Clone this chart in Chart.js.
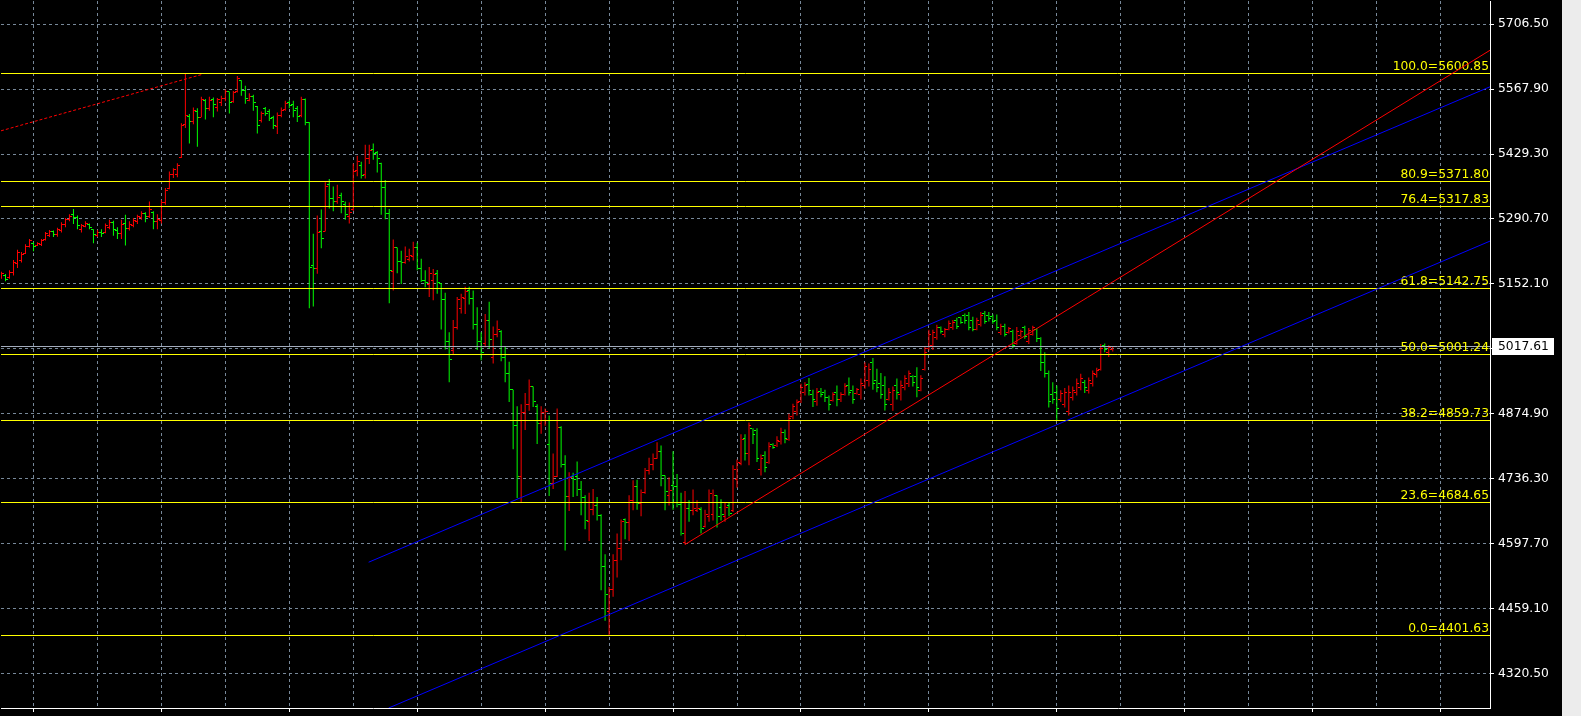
<!DOCTYPE html>
<html>
<head>
<meta charset="utf-8">
<script src="https://cdn.jsdelivr.net/npm/chart.js@4.4.1/dist/chart.umd.min.js"></script>
<style>
html, body { margin: 0; padding: 0; background: #ececec; overflow: hidden; }
#chart { display: block; background: #000; }
</style>
</head>
<body>
<canvas id="chart" width="1562" height="716"></canvas>
<script>
// bar data, one value per bar (oldest first)
const open = [
5165,5171,5165,5176,5196,5203,5218,5233,5238,5234,
5236,5246,5256,5264,5257,5267,5278,5289,5300,5294,
5268,5275,5279,5268,5256,5262,5262,5273,5284,5266,
5259,5282,5270,5277,5285,5293,5302,5296,5305,5285,
5288,5326,5355,5385,5385,5421,5493,5510,5498,5521,
5508,5543,5527,5545,5529,5540,5548,5562,5541,5562,
5587,5566,5544,5552,5530,5500,5527,5520,5508,5488,
5512,5524,5540,5536,5526,5512,5546,5497,5192,5185,
5265,5265,5364,5335,5328,5340,5322,5296,5310,5395,
5405,5385,5420,5440,5432,5410,5357,5302,5178,5229,
5200,5198,5205,5210,5230,5185,5160,5150,5160,5175,
5154,5118,5030,5010,5060,5100,5120,5138,5120,5065,
5030,5025,5074,4995,5045,5050,4995,4960,4926,4849,
4741,4878,4894,4933,4890,4854,4860,4810,4726,4740,
4846,4766,4699,4740,4740,4713,4696,4644,4670,4679,
4658,4549,4452,4500,4562,4587,4648,4642,4690,4720,
4683,4706,4754,4766,4779,4795,4743,4700,4722,4720,
4682,4600,4673,4669,4668,4670,4635,4655,4660,4700,
4675,4655,4678,4668,4735,4768,4822,4790,4844,4838,
4755,4785,4770,4810,4806,4815,4835,4820,4868,4880,
4900,4920,4938,4915,4900,4922,4920,4910,4903,4920,
4905,4915,4935,4925,4918,4915,4935,4945,4985,4945,
4940,4935,4905,4895,4935,4915,4930,4940,4955,4955,
4925,4970,5015,5020,5038,5058,5045,5055,5058,5075,
5080,5085,5085,5075,5055,5065,5088,5085,5082,5075,
5048,5062,5048,5050,5025,5042,5058,5030,5045,5055,
5035,4985,4960,4915,4920,4905,4895,4880,4910,4920,
4930,4942,4925,4940,4958,4970,5020,5005,5012
];
const high = [
5178,5173,5181,5203,5225,5220,5237,5248,5241,5241,
5248,5263,5267,5266,5272,5284,5293,5301,5312,5298,
5280,5286,5281,5269,5267,5269,5281,5289,5287,5273,
5289,5300,5286,5293,5300,5307,5305,5328,5307,5301,
5331,5357,5392,5399,5410,5495,5600.85,5515,5529,5527,
5552,5547,5552,5550,5549,5554,5567,5563,5564,5596,
5587,5575,5559,5556,5532,5520,5530,5525,5511,5518,
5529,5543,5544,5543,5532,5552,5548,5498,5259,5298,
5311,5369,5376,5360,5364,5347,5328,5326,5409,5426,
5413,5449,5449,5452,5436,5411,5374,5312,5247,5230,
5223,5232,5227,5242,5240,5206,5181,5188,5184,5182,
5154,5133,5049,5075,5124,5131,5146,5146,5138,5102,
5049,5088,5114,5061,5074,5053,5018,4986,4926,4891,
4895,4919,4948,4933,4895,4891,4886,4871,4790,4886,
4848,4786,4750,4749,4773,4731,4701,4706,4714,4697,
4660,4575,4505,4575,4619,4649,4651,4701,4733,4734,
4713,4759,4781,4790,4814,4807,4743,4739,4795,4746,
4706,4710,4690,4713,4690,4675,4670,4713,4713,4701,
4692,4686,4684,4765,4777,4831,4831,4856,4844,4844,
4788,4795,4814,4812,4827,4845,4841,4875,4896,4905,
4939,4942,4951,4926,4930,4930,4926,4914,4921,4935,
4921,4940,4952,4935,4930,4950,4985,4982,4994,4971,
4962,4955,4930,4933,4950,4946,4957,4967,4957,4974,
4957,5018,5054,5054,5065,5061,5058,5074,5075,5080,
5082,5089,5092,5082,5080,5092,5094,5092,5087,5087,
5067,5067,5060,5054,5060,5054,5063,5058,5063,5058,
5038,5006,4967,4942,4935,4925,4930,4935,4933,4950,
4960,4947,4952,4967,4973,5024,5025,5021,5018
];
const low = [
5163,5158,5163,5170,5186,5198,5216,5230,5222,5233,
5233,5245,5252,5252,5253,5262,5273,5286,5280,5269,
5262,5273,5269,5239,5252,5252,5260,5269,5255,5248,
5248,5234,5266,5273,5280,5289,5284,5293,5269,5269,
5281,5321,5354,5378,5380,5421,5485,5452,5493,5445,
5508,5503,5522,5508,5520,5532,5542,5516,5539,5561,
5554,5537,5542,5522,5473,5497,5511,5500,5483,5472,
5508,5522,5527,5508,5498,5508,5491,5100,5104,5174,
5228,5264,5313,5307,5323,5303,5289,5281,5308,5382,
5377,5377,5408,5417,5390,5300,5290,5111,5138,5175,
5152,5195,5200,5202,5181,5156,5145,5124,5117,5131,
5055,5012,4942,5001,5055,5089,5088,5108,5055,5011,
4989,5017,5014,4982,5038,4987,4942,4900,4799,4695,
4686,4840,4881,4889,4810,4832,4849,4699,4714,4740,
4760,4583,4667,4697,4699,4658,4628,4603,4658,4647,
4498,4433,4401.63,4484,4525,4562,4607,4603,4669,4670,
4656,4704,4745,4754,4779,4720,4669,4679,4670,4675,
4615,4595.6,4644,4658,4665,4619,4632,4644,4647,4632,
4647,4644,4656,4665,4717,4765,4775,4765,4810,4772,
4743,4750,4768,4800,4804,4809,4812,4817,4863,4871,
4898,4914,4914,4889,4892,4910,4900,4882,4901,4891,
4900,4914,4914,4896,4916,4905,4928,4933,4926,4921,
4907,4882,4903,4881,4905,4903,4925,4932,4933,4910,
4923,4967,5010,5011,5033,5046,5038,5053,5054,5056,
5067,5067,5053,5051,5053,5061,5067,5072,5067,5053,
5043,5040,5046,5014,5022,5038,5035,5024,5042,5028,
4966,4952,4888,4896,4859.73,4900,4888,4871,4903,4914,
4925,4919,4918,4933,4952,4967,5006,4996,5008
];
const close = [
5175,5162,5177,5197,5220,5215,5233,5244,5232,5238,
5245,5259,5264,5258,5268,5279,5289,5297,5294,5276,
5277,5282,5273,5258,5262,5260,5277,5284,5268,5259,
5280,5270,5280,5287,5295,5302,5295,5312,5285,5290,
5325,5352,5385,5396,5405,5490,5511,5498,5522,5508,
5546,5527,5544,5535,5546,5548,5562,5540,5560,5590,
5565,5548,5553,5539,5490,5515,5515,5505,5490,5512,
5522,5538,5534,5522,5510,5545,5497,5188,5185,5262,
5250,5360,5335,5328,5337,5327,5300,5305,5392,5414,
5383,5419,5436,5431,5420,5357,5302,5180,5229,5200,
5197,5210,5213,5229,5185,5160,5156,5175,5172,5155,
5118,5030,4990,5060,5118,5122,5135,5120,5065,5030,
5005,5074,5033,5045,5055,4995,4960,4926,4849,4741,
4878,4894,4933,4902,4854,4878,4880,4726,4740,4846,
4766,4699,4738,4734,4713,4696,4646,4670,4679,4658,
4549,4488,4500,4562,4587,4644,4642,4690,4720,4683,
4706,4754,4766,4779,4795,4743,4708,4712,4720,4682,
4619,4672,4669,4672,4672,4630,4660,4705,4700,4655,
4660,4675,4662,4755,4770,4820,4790,4850,4830,4780,
4780,4760,4805,4802,4818,4835,4822,4865,4890,4898,
4930,4935,4925,4905,4920,4915,4910,4895,4915,4905,
4915,4932,4920,4905,4926,4940,4975,4970,4940,4930,
4915,4895,4920,4925,4920,4935,4950,4960,4942,4930,
4950,5005,5045,5048,5058,5050,5055,5068,5070,5062,
5070,5075,5060,5055,5075,5085,5072,5078,5072,5058,
5062,5045,5056,5020,5050,5050,5040,5052,5058,5035,
4985,4960,4900,4905,4885,4918,4920,4920,4925,4940,
4950,4930,4945,4960,4968,5015,5012,5016,5017.61
];

// price axis labels
const yTicks = [5706.50, 5567.90, 5429.30, 5290.70, 5152.10, 5013.50, 4874.90, 4736.30, 4597.70, 4459.10, 4320.50];

// fibonacci retracement
const fibPct = [100.0, 80.9, 76.4, 61.8, 50.0, 38.2, 23.6, 0.0];
const fibPrice = [5600.85, 5371.80, 5317.83, 5142.75, 5001.24, 4859.73, 4684.65, 4401.63];

// trend lines: [bar index, price] end points
const trendRedDot = [[-0.125, 5479.0], [50.375, 5599.9]];
const trendRed = [[171, 4595.6], [372.375, 5651.0]];
const channelTop = [[91.85, 4557.8], [372.375, 5573.0]];
const channelBottom = [[96.85, 4246.5], [372.375, 5243.5]];

const lastPrice = close[close.length - 1];
const xMin = -0.125, xMax = 372.375;
const yMin = 4246.5, yMax = 5756.2;
const fontSize = 12.3;

Chart.defaults.font.family = 'DejaVu Sans';
Chart.defaults.font.size = fontSize;

const ctx = document.getElementById('chart');

// 2x1 pixel open/close marks
function tickImage(color) {
    let cv = document.createElement('canvas');
    cv.width = 2;
    cv.height = 1;
    let g = cv.getContext('2d');
    g.fillStyle = color;
    g.fillRect(0, 0, 2, 1);
    return cv;
}
const upTick = tickImage('#ff0000');
const downTick = tickImage('#00ff00');

let barColors = [];
let tickStyles = [];
let idx = [];
for (let i = 0; i < close.length; i++) {
    idx.push(i);
    let up = close[i] >= open[i];
    barColors.push(up ? '#ff0000' : '#00ff00');
    tickStyles.push(up ? upTick : downTick);
}

let xGrid = [];
for (let v = 8; v <= xMax; v += 16) xGrid.push(v);

function lineSet(pts, color, dash) {
    return {
        type: 'line',
        data: pts.map(p => ({x: p[0], y: p[1]})),
        borderColor: color,
        borderWidth: 1,
        borderDash: dash || [],
        pointRadius: 0,
        fill: false,
        tension: 0
    };
}

function tickSet(xs, ys) {
    return {
        type: 'scatter',
        data: idx.map(i => ({x: i + xs, y: ys[i]})),
        pointStyle: tickStyles,
        pointRadius: 1,
        pointHoverRadius: 1,
        pointBorderWidth: 0
    };
}

// no label overflow padding: plot area fills the canvas up to the axes
function noPad(s) {
    s.paddingTop = 0;
    s.paddingBottom = 0;
    s.paddingLeft = 0;
    s.paddingRight = 0;
}

const fiboPlugin = {
    id: 'fibo',
    beforeDatasetsDraw(chart) {
        chart.ctx.imageSmoothingEnabled = false;
    },
    beforeDatasetDraw(chart, args) {
        if (args.index !== 3) return;
        const c = chart.ctx, a = chart.chartArea, y = chart.scales.y;
        c.save();
        c.beginPath();
        c.rect(a.left, a.top, a.right - a.left, a.bottom - a.top);
        c.clip();
        c.lineWidth = 1;
        let by = Math.floor(y.getPixelForValue(lastPrice)) + 0.5;
        c.strokeStyle = '#a3acbc';
        c.beginPath();
        c.moveTo(a.left, by);
        c.lineTo(a.right, by);
        c.stroke();
        c.font = fontSize + 'px "DejaVu Sans"';
        c.textAlign = 'right';
        c.textBaseline = 'alphabetic';
        for (let k = 0; k < fibPrice.length; k++) {
            let py = Math.floor(y.getPixelForValue(fibPrice[k]));
            c.strokeStyle = '#ffff00';
            c.beginPath();
            c.moveTo(a.left, py + 0.5);
            c.lineTo(a.right, py + 0.5);
            c.stroke();
            c.fillStyle = '#ffff00';
            c.fillText(fibPct[k].toFixed(1) + '=' + fibPrice[k].toFixed(2), a.right - 1, py - 3);
        }
        c.restore();
    },
    afterDraw(chart) {
        const c = chart.ctx, y = chart.scales.y;
        let py = Math.floor(y.getPixelForValue(lastPrice));
        c.save();
        c.fillStyle = '#ffffff';
        c.fillRect(y.left + 2, py - 8, 62, 17);
        c.fillStyle = '#000000';
        c.font = fontSize + 'px "DejaVu Sans"';
        c.textAlign = 'left';
        c.textBaseline = 'middle';
        c.fillText(lastPrice.toFixed(2), y.left + 8, py + 1);
        c.restore();
    }
};

let myChart = new Chart(ctx, {
    type: 'bar',
    data: {
        datasets: [
            lineSet(trendRedDot, '#ff0000', [3, 2]),
            lineSet(trendRed, '#ff0000'),
            lineSet(channelTop, '#0000ff'),
            lineSet(channelBottom, '#0000ff'),
            tickSet(-0.375, open),
            tickSet(0.375, close),
            {
                type: 'bar',
                data: idx.map(i => ({x: i, y: [low[i], high[i]]})),
                backgroundColor: barColors,
                borderWidth: 0,
                barThickness: 1,
                inflateAmount: 0
            }
        ]
    },
    options: {
        responsive: false,
        animation: false,
        events: [],
        layout: {padding: 0},
        plugins: {legend: {display: false}, tooltip: {enabled: false}},
        scales: {
            x: {
                type: 'linear',
                min: xMin,
                max: xMax,
                offset: false,
                afterBuildTicks: s => { s.ticks = xGrid.map(v => ({value: v})); },
                afterFit: s => { s.height = 8; noPad(s); },
                grid: {
                    offset: false,
                    color: '#778899',
                    lineWidth: 1,
                    drawTicks: true,
                    tickLength: 4,
                    tickColor: c => (c.index % 2 === 0 ? '#ffffff' : 'rgba(0,0,0,0)'),
                    tickBorderDash: []
                },
                border: {display: true, color: '#ffffff', width: 1, dash: [3, 3]},
                ticks: {display: false}
            },
            y: {
                type: 'linear',
                position: 'right',
                min: yMin,
                max: yMax,
                beginAtZero: false,
                afterBuildTicks: s => { s.ticks = yTicks.map(v => ({value: v})); },
                afterFit: s => { s.width = 72; noPad(s); },
                grid: {
                    color: '#778899',
                    lineWidth: 1,
                    tickLength: 4,
                    tickColor: '#ffffff',
                    tickBorderDash: []
                },
                border: {display: true, color: '#ffffff', width: 1, dash: [3, 3]},
                ticks: {
                    color: '#ffffff',
                    padding: 4,
                    font: {family: 'DejaVu Sans', size: fontSize},
                    callback: v => Number(v).toFixed(2)
                }
            }
        }
    },
    plugins: [fiboPlugin]
});
</script>
</body>
</html>
